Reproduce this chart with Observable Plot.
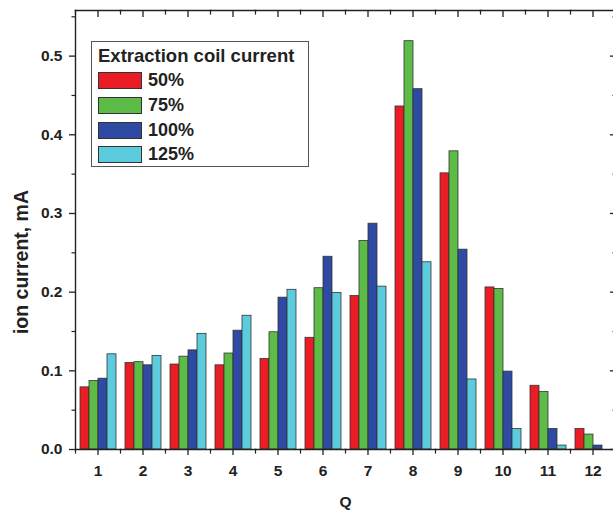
<!DOCTYPE html>
<html><head><meta charset="utf-8">
<script src="https://cdn.jsdelivr.net/npm/d3@7"></script>
<script src="https://cdn.jsdelivr.net/npm/@observablehq/plot@0.6"></script>
<style>
body{margin:0;background:#fff;overflow:hidden}
#wrap{position:relative;width:613px;height:510px;font-family:"Liberation Sans",Arial,sans-serif;color:#222}
#legend{position:absolute;left:91px;top:41px;width:216px;height:124px;border:1px solid #555;background:#fff}
#legend .title{position:absolute;left:6px;top:3px;font-size:18.5px;font-weight:bold;white-space:nowrap}
#legend .row{position:absolute;left:6px;height:17px}
#legend .sw{position:absolute;left:0;top:0;width:42px;height:15px;border:1px solid #333}
#legend .lab{position:absolute;left:50px;top:-2px;font-size:18px;font-weight:bold;line-height:20px;white-space:nowrap}
#ytitle{position:absolute;left:22px;top:262px;transform:translate(-50%,-50%) rotate(-90deg);font-size:19.5px;font-weight:bold;white-space:nowrap;line-height:1}
</style></head><body><div id="wrap"></div>
<script>
const Q = [1,2,3,4,5,6,7,8,9,10,11,12];
const series = ["50%","75%","100%","125%"];
const colors = ["#ea1c24","#5dbb47","#2f4aa2","#5ccbdd"];
const v50  = [0.079,0.110,0.108,0.107,0.115,0.142,0.195,0.436,0.351,0.206,0.081,0.026];
const v75  = [0.087,0.111,0.118,0.122,0.149,0.205,0.265,0.519,0.379,0.204,0.073,0.019];
const v100 = [0.090,0.107,0.126,0.151,0.193,0.245,0.287,0.458,0.254,0.099,0.026,0.005];
const v125 = [0.121,0.119,0.147,0.170,0.203,0.199,0.207,0.238,0.089,0.026,0.005,0];
const yMajor = [0,0.1,0.2,0.3,0.4,0.5];
const yMinor = [0.05,0.15,0.25,0.35,0.45,0.55];
const legendTitle = "Extraction coil current";
const xLabel = "Q";
const yLabel = "ion current, mA";

const valuesBySeries = [v50, v75, v100, v125];
const data = [];
Q.forEach((q, i) => series.forEach((s, j) => data.push({Q: q, series: s, value: valuesBySeries[j][i]})));

const H = 439;
const ink = "#222";
const plot = Plot.plot({
  width: 613, height: 510,
  marginLeft: 75, marginRight: 0, marginTop: 10, marginBottom: 61,
  style: {fontFamily: '"Liberation Sans", Arial, sans-serif', background: "#fff", color: ink},
  fx: {domain: Q, range: [75, 615], padding: 0},
  x: {domain: series, paddingInner: 0, paddingOuter: 0.43, axis: null},
  y: {domain: [0, 0.558], axis: null},
  color: {domain: series, range: colors},
  marks: [
    Plot.barY(data, {fx: "Q", x: "series", y: "value", fill: "series", stroke: "#333", strokeWidth: 0.8, filter: d => d.value > 0}),
    Plot.frame({anchor: "bottom", stroke: ink, strokeWidth: 1.4}),
    Plot.frame({anchor: "top", stroke: ink, strokeWidth: 1.4}),
    Plot.frame({anchor: "left", stroke: ink, strokeWidth: 1.4, facetAnchor: "left"}),
    Plot.frame({anchor: "left", stroke: ink, strokeWidth: 1.2, insetTop: H, insetBottom: -3.5}),
    Plot.frame({anchor: "left", stroke: ink, strokeWidth: 1.2, insetBottom: H - 3.5}),
    Plot.axisY({anchor: "left", ticks: yMajor, tickFormat: d3.format(".1f"), tickSize: 6, tickPadding: 7, label: null,
      fontSize: 15.5, fontWeight: "bold", color: ink, strokeWidth: 1.3}),
    Plot.axisY({anchor: "left", ticks: yMinor, tickFormat: () => "", tickSize: 3.5, label: null, color: ink, strokeWidth: 1.2}),
    Plot.axisY({anchor: "right", ticks: yMajor, tickFormat: () => "", tickSize: 6, dx: -6, label: null, color: ink, strokeWidth: 1.3}),
    Plot.axisY({anchor: "right", ticks: yMinor, tickFormat: () => "", tickSize: 3.5, dx: -3.5, label: null, color: ink, strokeWidth: 1.2}),
    Plot.axisFx({anchor: "bottom", tickSize: 6, tickPadding: 9, fontSize: 15.5, fontWeight: "bold", color: ink, strokeWidth: 1.3,
      label: xLabel, labelAnchor: "center", labelOffset: 57}),
    Plot.axisFx({anchor: "top", tickSize: 6, dy: 6, tickFormat: () => "", label: null, color: ink, strokeWidth: 1.3})
  ]
});
const wrap = document.getElementById("wrap");
wrap.appendChild(plot);

const yt = document.createElement("div");
yt.id = "ytitle"; yt.textContent = yLabel;
wrap.appendChild(yt);

const lg = document.createElement("div");
lg.id = "legend";
const t = document.createElement("div");
t.className = "title"; t.textContent = legendTitle; lg.appendChild(t);
series.forEach((s, i) => {
  const r = document.createElement("div");
  r.className = "row"; r.style.top = (30 + i * 24.8) + "px";
  const sw = document.createElement("div"); sw.className = "sw"; sw.style.background = colors[i];
  const lb = document.createElement("div"); lb.className = "lab"; lb.textContent = s;
  r.appendChild(sw); r.appendChild(lb); lg.appendChild(r);
});
wrap.appendChild(lg);
</script></body></html>
